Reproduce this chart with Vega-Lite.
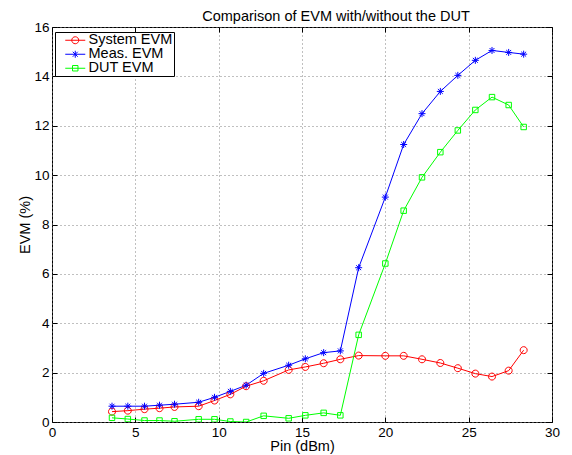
{
  "$schema": "https://vega.github.io/schema/vega-lite/v6.json",
  "width": 500,
  "height": 395,
  "autosize": "none",
  "padding": {"left": 52, "top": 27, "right": 20, "bottom": 33},
  "background": "white",
  "title": {"text": "Comparison of EVM with/without the DUT", "font": "Liberation Sans", "fontSize": 14.5, "fontWeight": "normal", "color": "black", "anchor": "middle", "dx": 34, "offset": 7, "dy": 11},
  "data": {"values": [
    {"s": "System EVM", "x": 3.6, "y": 0.42}, {"s": "System EVM", "x": 4.55, "y": 0.46}, {"s": "System EVM", "x": 5.55, "y": 0.52}, {"s": "System EVM", "x": 6.45, "y": 0.56}, {"s": "System EVM", "x": 7.35, "y": 0.61}, {"s": "System EVM", "x": 8.8, "y": 0.64}, {"s": "System EVM", "x": 9.75, "y": 0.87}, {"s": "System EVM", "x": 10.7, "y": 1.12}, {"s": "System EVM", "x": 11.65, "y": 1.45}, {"s": "System EVM", "x": 12.7, "y": 1.67}, {"s": "System EVM", "x": 14.2, "y": 2.11}, {"s": "System EVM", "x": 15.2, "y": 2.23}, {"s": "System EVM", "x": 16.3, "y": 2.38}, {"s": "System EVM", "x": 17.3, "y": 2.54}, {"s": "System EVM", "x": 18.4, "y": 2.69}, {"s": "System EVM", "x": 20.0, "y": 2.68}, {"s": "System EVM", "x": 21.1, "y": 2.68}, {"s": "System EVM", "x": 22.2, "y": 2.54}, {"s": "System EVM", "x": 23.3, "y": 2.39}, {"s": "System EVM", "x": 24.35, "y": 2.18}, {"s": "System EVM", "x": 25.4, "y": 1.96}, {"s": "System EVM", "x": 26.4, "y": 1.84}, {"s": "System EVM", "x": 27.4, "y": 2.08}, {"s": "System EVM", "x": 28.3, "y": 2.91},
    {"s": "Meas. EVM", "x": 3.6, "y": 0.64}, {"s": "Meas. EVM", "x": 4.55, "y": 0.64}, {"s": "Meas. EVM", "x": 5.55, "y": 0.64}, {"s": "Meas. EVM", "x": 6.45, "y": 0.68}, {"s": "Meas. EVM", "x": 7.35, "y": 0.72}, {"s": "Meas. EVM", "x": 8.8, "y": 0.8}, {"s": "Meas. EVM", "x": 9.75, "y": 1.0}, {"s": "Meas. EVM", "x": 10.7, "y": 1.24}, {"s": "Meas. EVM", "x": 11.65, "y": 1.49}, {"s": "Meas. EVM", "x": 12.7, "y": 1.97}, {"s": "Meas. EVM", "x": 14.2, "y": 2.3}, {"s": "Meas. EVM", "x": 15.2, "y": 2.56}, {"s": "Meas. EVM", "x": 16.3, "y": 2.81}, {"s": "Meas. EVM", "x": 17.3, "y": 2.88}, {"s": "Meas. EVM", "x": 18.4, "y": 6.25}, {"s": "Meas. EVM", "x": 20.0, "y": 9.11}, {"s": "Meas. EVM", "x": 21.1, "y": 11.24}, {"s": "Meas. EVM", "x": 22.2, "y": 12.49}, {"s": "Meas. EVM", "x": 23.3, "y": 13.39}, {"s": "Meas. EVM", "x": 24.35, "y": 14.04}, {"s": "Meas. EVM", "x": 25.4, "y": 14.65}, {"s": "Meas. EVM", "x": 26.4, "y": 15.05}, {"s": "Meas. EVM", "x": 27.4, "y": 14.97}, {"s": "Meas. EVM", "x": 28.3, "y": 14.9},
    {"s": "DUT EVM", "x": 3.6, "y": 0.17}, {"s": "DUT EVM", "x": 4.55, "y": 0.12}, {"s": "DUT EVM", "x": 5.55, "y": 0.06}, {"s": "DUT EVM", "x": 6.45, "y": 0.06}, {"s": "DUT EVM", "x": 7.35, "y": 0.03}, {"s": "DUT EVM", "x": 8.8, "y": 0.11}, {"s": "DUT EVM", "x": 9.75, "y": 0.11}, {"s": "DUT EVM", "x": 10.7, "y": 0.02}, {"s": "DUT EVM", "x": 11.65, "y": 0.0}, {"s": "DUT EVM", "x": 12.7, "y": 0.25}, {"s": "DUT EVM", "x": 14.2, "y": 0.15}, {"s": "DUT EVM", "x": 15.2, "y": 0.27}, {"s": "DUT EVM", "x": 16.3, "y": 0.37}, {"s": "DUT EVM", "x": 17.3, "y": 0.27}, {"s": "DUT EVM", "x": 18.4, "y": 3.53}, {"s": "DUT EVM", "x": 20.0, "y": 6.42}, {"s": "DUT EVM", "x": 21.1, "y": 8.56}, {"s": "DUT EVM", "x": 22.2, "y": 9.91}, {"s": "DUT EVM", "x": 23.3, "y": 10.93}, {"s": "DUT EVM", "x": 24.35, "y": 11.81}, {"s": "DUT EVM", "x": 25.4, "y": 12.64}, {"s": "DUT EVM", "x": 26.4, "y": 13.16}, {"s": "DUT EVM", "x": 27.4, "y": 12.84}, {"s": "DUT EVM", "x": 28.3, "y": 11.95}
  ]},
  "encoding": {
    "color": {"field": "s", "type": "nominal", "scale": {"domain": ["System EVM", "Meas. EVM", "DUT EVM"], "range": ["#ff0000", "#0000ff", "#00ff00"]},
      "legend": {
        "title": null, "orient": "none", "legendX": 3, "legendY": 5,
        "strokeColor": "black", "fillColor": "white", "padding": 1, "cornerRadius": 0,
        "labelFont": "Liberation Sans", "labelFontSize": 14.5, "labelColor": "black",
        "symbolSize": 64, "symbolOffset": 12, "labelOffset": 6, "rowPadding": -4,
        "encode": {"symbols": {"update": {
          "shape": {"signal": "datum.value === 'System EVM' ? 'M-2.5,0H2.5M0.875,0A0.875,0.875,0,1,1,-0.875,0A0.875,0.875,0,1,1,0.875,0Z' : (datum.value === 'Meas. EVM' ? 'M-2.5,0H2.5M0,-0.875V0.875M-0.62,-0.62L0.62,0.62M-0.62,0.62L0.62,-0.62' : 'M-2.5,0H2.5M-0.68,-0.68H0.68V0.68H-0.68Z')"},
          "stroke": {"scale": "color", "field": "value"},
          "fill": {"value": "transparent"},
          "strokeWidth": {"value": 1},
          "size": {"value": 64},
          "opacity": {"value": 1}
        }}}
      }
    }
  },
  "layer": [
    {
      "mark": {"type": "line", "strokeWidth": 1, "clip": true},
      "encoding": {
        "x": {"field": "x", "type": "quantitative", "scale": {"domain": [0, 30], "nice": false, "zero": false}, "axis": {"values": [0, 5, 10, 15, 20, 25, 30], "title": "Pin (dBm)", "grid": true}},
        "y": {"field": "y", "type": "quantitative", "scale": {"domain": [0, 16], "nice": false}, "axis": {"values": [0, 2, 4, 6, 8, 10, 12, 14, 16], "title": "EVM (%)", "grid": true}}
      }
    },
    {
      "transform": [{"filter": "datum.s === 'System EVM'"}],
      "mark": {"type": "point", "shape": "M1,0A1,1,0,1,1,-1,0A1,1,0,1,1,1,0Z", "filled": false, "strokeWidth": 1, "size": 49, "opacity": 1, "clip": true},
      "encoding": {
        "x": {"field": "x", "type": "quantitative", "axis": {"orient": "top", "values": [0, 5, 10, 15, 20, 25, 30], "labels": false, "title": null, "grid": false}},
        "y": {"field": "y", "type": "quantitative", "axis": {"orient": "right", "values": [0, 2, 4, 6, 8, 10, 12, 14, 16], "labels": false, "title": null, "grid": false}}
      }
    },
    {
      "transform": [{"filter": "datum.s === 'Meas. EVM'"}],
      "mark": {"type": "point", "shape": "M-1,0H1M0,-1V1M-0.7,-0.7L0.7,0.7M-0.7,0.7L0.7,-0.7", "filled": false, "strokeWidth": 1, "size": 49, "opacity": 1, "clip": true},
      "encoding": {
        "x": {"field": "x", "type": "quantitative", "axis": null},
        "y": {"field": "y", "type": "quantitative", "axis": null}
      }
    },
    {
      "transform": [{"filter": "datum.s === 'DUT EVM'"}],
      "mark": {"type": "point", "shape": "M-0.78,-0.78H0.78V0.78H-0.78Z", "filled": false, "strokeWidth": 1, "size": 49, "opacity": 1, "clip": true},
      "encoding": {
        "x": {"field": "x", "type": "quantitative", "axis": null},
        "y": {"field": "y", "type": "quantitative", "axis": null}
      }
    }
  ],
  "resolve": {"axis": {"x": "independent", "y": "independent"}},
  "config": {
    "view": {"stroke": "black", "strokeWidth": 1},
    "axis": {
      "labelFont": "Liberation Sans", "labelFontSize": 13.5, "labelColor": "black",
      "titleFont": "Liberation Sans", "titleFontSize": 14.5, "titleFontWeight": "normal", "titleColor": "black",
      "domain": false, "tickColor": "black", "tickSize": -5, "labelPadding": 8,
      "gridColor": "#808080", "gridDash": [1, 3], "gridOpacity": 1, "gridWidth": 1,
      "labelFlush": false, "labelOverlap": false
    },
    "axisX": {"titlePadding": 1},
    "axisY": {"titlePadding": 1}
  }
}
